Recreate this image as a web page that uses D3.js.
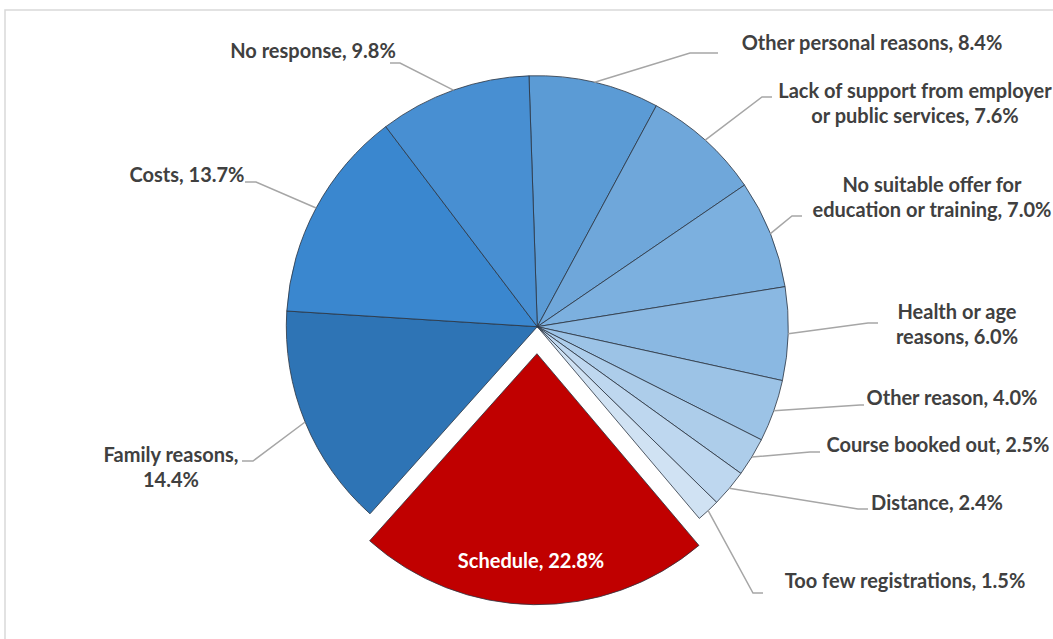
<!DOCTYPE html>
<html>
<head>
<meta charset="utf-8">
<script src="https://cdn.jsdelivr.net/npm/d3@7"></script>
<style>
  html, body { margin: 0; padding: 0; background: #fff; }
  svg { display: block; }
  text { font-family: Lato, "Open Sans", sans-serif; font-weight: bold; }
</style>
</head>
<body>
<svg id="chart" width="1053" height="639"></svg>
<script>
// ---- data ----
const categories = [
  "Other personal reasons",
  "Lack of support from employer or public services",
  "No suitable offer for education or training",
  "Health or age reasons",
  "Other reason",
  "Course booked out",
  "Distance",
  "Too few registrations",
  "Schedule",
  "Family reasons",
  "Costs",
  "No response"
];
const values = [8.4, 7.6, 7.0, 6.0, 4.0, 2.5, 2.4, 1.5, 22.8, 14.4, 13.7, 9.8];
const highlighted = ["Schedule"];

// ---- style ----
const colors = ["#5b9bd5", "#6fa7da", "#7cb0df", "#8ab8e2", "#9cc3e6", "#adcdea",
                "#bed7ef", "#d0e2f3", "#c00000", "#2e74b5", "#3a87cf", "#488fd2"];

// ---- label layout: words on first line, label centre x, first baseline, leader elbow, leader end ----
const labelLayout = [
  {brk: 99, cx: 872, y: 50,  elbow: [690, 53],  end: [718, 53]},
  {brk: 5,  cx: 915, y: 98,  elbow: [762, 97],  end: [772, 97]},
  {brk: 4,  cx: 932, y: 192, elbow: [792, 216], end: [802, 216]},
  {brk: 3,  cx: 957, y: 319, elbow: [868, 323], end: [878, 323]},
  {brk: 99, cx: 952, y: 405, elbow: [860, 405], end: [864, 405]},
  {brk: 99, cx: 938, y: 452, elbow: [810, 452], end: [820, 452]},
  {brk: 99, cx: 937, y: 510, elbow: [858, 509], end: [868, 509]},
  {brk: 99, cx: 905, y: 588, elbow: [753, 593], end: [763, 593]},
  {brk: 99, cx: 531, y: 568, inside: true},
  {brk: 2,  cx: 171, y: 462, elbow: [253, 461], end: [242, 461]},
  {brk: 99, cx: 187, y: 182, elbow: [256, 182], end: [245, 182]},
  {brk: 99, cx: 313, y: 58,  elbow: [400, 63],  end: [390, 63]}
];

const W = 1053, H = 639;
const cx = 537.3, cy = 326.7, R = 251, explode = 27;
const startDeg = -1.9;
const fontSize = 20, lineH = 25;

const svg = d3.select("#chart");

// chart area border
svg.append("rect")
  .attr("x", 5).attr("y", 10).attr("width", W + 20).attr("height", H + 20)
  .attr("fill", "none").attr("stroke", "#d9d9d9").attr("stroke-width", 1.5);

const data = categories.map((c, i) => ({name: c, value: values[i], idx: i}));

const pie = d3.pie()
  .value(d => d.value)
  .sort(null)
  .startAngle(startDeg * Math.PI / 180)
  .endAngle(startDeg * Math.PI / 180 + 2 * Math.PI);

const arcs = pie(data);
const arc = d3.arc().innerRadius(0).outerRadius(R);

const g = svg.append("g").attr("transform", `translate(${cx},${cy})`);

function offsetOf(a) {
  if (!highlighted.includes(a.data.name)) return [0, 0];
  const m = (a.startAngle + a.endAngle) / 2;
  return [explode * Math.sin(m), -explode * Math.cos(m)];
}

g.selectAll("path.slice")
  .data(arcs)
  .join("path")
  .attr("class", "slice")
  .attr("transform", a => { const o = offsetOf(a); return `translate(${o[0]},${o[1]})`; })
  .attr("d", arc)
  .attr("fill", (a, i) => colors[i])
  .attr("stroke", "#2b3440")
  .attr("stroke-width", 0.8)
  .attr("stroke-linejoin", "round");

// leader lines
const fmt = v => v.toFixed(1) + "%";
arcs.forEach((a, i) => {
  const L = labelLayout[i];
  if (L.inside) return;
  const m = (a.startAngle + a.endAngle) / 2;
  const o = offsetOf(a);
  const sx = cx + o[0] + R * Math.sin(m), sy = cy + o[1] - R * Math.cos(m);
  svg.append("path")
    .attr("d", d3.line()([[sx, sy], L.elbow, L.end]))
    .attr("fill", "none")
    .attr("stroke", "#a6a6a6")
    .attr("stroke-width", 1.5);
});

// labels
arcs.forEach((a, i) => {
  const L = labelLayout[i];
  const words = (a.data.name + ", " + fmt(a.data.value)).split(" ");
  const lines = words.length > L.brk
    ? [words.slice(0, L.brk).join(" "), words.slice(L.brk).join(" ")]
    : [words.join(" ")];
  const t = svg.append("text")
    .attr("x", L.cx).attr("y", L.y)
    .attr("text-anchor", "middle")
    .attr("font-size", fontSize)
    .attr("fill", L.inside ? "#ffffff" : "#404040");
  lines.forEach((ln, k) => {
    t.append("tspan").attr("x", L.cx).attr("y", L.y + k * lineH).text(ln);
  });
});
</script>
</body>
</html>
